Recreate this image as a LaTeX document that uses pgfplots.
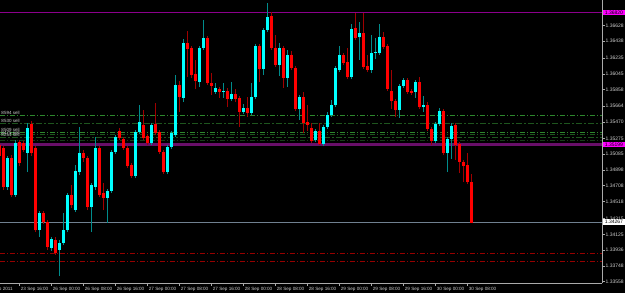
\documentclass[border=0pt]{standalone}
\usepackage{pgfplots}
\pgfplotsset{compat=1.18}
\usepackage{pgfplotstable}
\usepackage{fontspec}
\setmainfont{Liberation Sans}
\definecolor{bull}{RGB}{0,255,255}
\definecolor{bear}{RGB}{255,0,0}
\definecolor{bullwick}{RGB}{0,140,140}
\definecolor{bearwick}{RGB}{160,0,0}
\definecolor{framecol}{RGB}{170,170,170}
\definecolor{labcol}{RGB}{205,205,205}
\definecolor{lvltop}{RGB}{140,0,140}
\definecolor{lvlmid}{RGB}{105,15,105}
\definecolor{magbox}{RGB}{255,0,255}
\definecolor{bidcol}{RGB}{112,128,144}
\definecolor{gA}{RGB}{45,135,45}
\definecolor{gB}{RGB}{30,85,30}
\definecolor{gC}{RGB}{25,60,25}
\definecolor{rl}{RGB}{150,0,0}

% i open high low close  (EURUSD H1, bullish candles)
\pgfplotstableread{
i o h l c
1 1.34692 1.35064 1.34657 1.35040
3 1.34597 1.35255 1.34573 1.35219
6 1.35100 1.35459 1.34872 1.35399
9 1.34178 1.34405 1.34094 1.34381
12 1.33962 1.34094 1.33927 1.34070
14 1.33939 1.34058 1.33627 1.34022
15 1.34022 1.34381 1.33998 1.34178
16 1.34178 1.34621 1.34154 1.34597
18 1.34417 1.34956 1.34393 1.34884
19 1.34872 1.35411 1.34836 1.35100
22 1.34453 1.34740 1.34154 1.34717
23 1.34692 1.35291 1.34657 1.35159
26 1.34561 1.34669 1.34262 1.34645
27 1.34645 1.35136 1.34621 1.35112
28 1.35112 1.35315 1.35088 1.35291
33 1.34824 1.35375 1.34800 1.35351
34 1.35351 1.35674 1.35327 1.35471
37 1.35219 1.35459 1.35195 1.35435
41 1.34872 1.35195 1.34848 1.35171
42 1.35171 1.35363 1.35147 1.35339
43 1.35315 1.36033 1.35291 1.35914
45 1.35758 1.36464 1.35710 1.36416
49 1.35949 1.36380 1.35890 1.36356
50 1.36356 1.36692 1.36333 1.36476
53 1.35830 1.35937 1.35806 1.35878
55 1.35830 1.35937 1.35758 1.35842
57 1.35746 1.35949 1.35722 1.35806
60 1.35590 1.35686 1.35566 1.35638
62 1.35578 1.35937 1.35554 1.35770
63 1.35770 1.36404 1.35746 1.36380
65 1.36105 1.36596 1.36033 1.36572
66 1.36572 1.36895 1.36548 1.36728
69 1.36153 1.36416 1.36021 1.36356
71 1.35997 1.36333 1.35890 1.36273
74 1.35626 1.35794 1.35495 1.35770
78 1.35255 1.35387 1.35231 1.35363
80 1.35207 1.35435 1.35183 1.35411
81 1.35411 1.35590 1.35387 1.35554
82 1.35554 1.35734 1.35531 1.35674
83 1.35674 1.36141 1.35650 1.36117
84 1.36093 1.36380 1.36069 1.36273
87 1.36009 1.36644 1.35985 1.36584
89 1.36488 1.36668 1.36213 1.36536
92 1.36093 1.36512 1.36057 1.36297
93 1.36297 1.36476 1.36225 1.36303
94 1.36297 1.36644 1.36273 1.36488
99 1.35614 1.35926 1.35519 1.35902
100 1.35902 1.35997 1.35878 1.35973
103 1.35830 1.35973 1.35758 1.35949
105 1.35650 1.35782 1.35590 1.35674
108 1.35243 1.35471 1.35219 1.35447
109 1.35447 1.35638 1.35423 1.35602
111 1.35100 1.35291 1.34872 1.35267
112 1.35267 1.35459 1.35028 1.35423
}\upbars

% bearish candles
\pgfplotstableread{
i o h l c
-1 1.35195 1.35219 1.35040 1.35064
0 1.35159 1.35183 1.34657 1.34692
2 1.35040 1.35076 1.34573 1.34597
4 1.35231 1.35255 1.34944 1.34980
5 1.35219 1.35243 1.35112 1.35136
7 1.35447 1.35483 1.35064 1.35100
8 1.35159 1.35183 1.34154 1.34178
10 1.34381 1.34405 1.34250 1.34274
11 1.34274 1.34298 1.33939 1.33974
13 1.34058 1.34094 1.33879 1.33903
17 1.34597 1.34717 1.34441 1.34477
20 1.35100 1.35136 1.34992 1.35040
21 1.35040 1.35064 1.34417 1.34453
24 1.35159 1.35183 1.34573 1.34597
25 1.34621 1.34740 1.34417 1.34561
29 1.35363 1.35399 1.35255 1.35279
30 1.35267 1.35291 1.35136 1.35159
31 1.35159 1.35183 1.34920 1.34944
32 1.34956 1.34980 1.34800 1.34824
35 1.35435 1.35614 1.35255 1.35279
36 1.35303 1.35327 1.35195 1.35219
38 1.35447 1.35698 1.35315 1.35339
39 1.35351 1.35375 1.35088 1.35112
40 1.35112 1.35136 1.34848 1.34872
44 1.35914 1.35961 1.35590 1.35770
46 1.36416 1.36560 1.36009 1.36344
47 1.36356 1.36380 1.35997 1.36033
48 1.36045 1.36213 1.35866 1.35961
51 1.36476 1.36500 1.35914 1.35937
52 1.35937 1.36057 1.35794 1.35902
54 1.35866 1.35890 1.35758 1.35830
56 1.35842 1.35878 1.35650 1.35746
58 1.35806 1.35866 1.35710 1.35746
59 1.35758 1.35782 1.35411 1.35590
61 1.35638 1.35770 1.35531 1.35578
64 1.36380 1.36404 1.35949 1.36105
67 1.36739 1.36787 1.36333 1.36356
68 1.36356 1.36512 1.36129 1.36153
70 1.36356 1.36380 1.35878 1.35997
72 1.36273 1.36321 1.36093 1.36117
73 1.36117 1.36141 1.35602 1.35626
75 1.35770 1.35830 1.35339 1.35459
76 1.35471 1.35674 1.35363 1.35435
77 1.35399 1.35459 1.35219 1.35243
79 1.35363 1.35459 1.35195 1.35207
85 1.36273 1.36297 1.36153 1.36177
86 1.36189 1.36356 1.35985 1.36009
88 1.36596 1.36781 1.36452 1.36476
90 1.36536 1.36781 1.36105 1.36129
91 1.36141 1.36273 1.36069 1.36093
95 1.36488 1.36548 1.36344 1.36368
96 1.36380 1.36404 1.35842 1.35866
97 1.35842 1.36093 1.35626 1.35722
98 1.35722 1.35746 1.35531 1.35614
101 1.35973 1.35997 1.35806 1.35830
102 1.35842 1.35866 1.35794 1.35818
104 1.35949 1.36009 1.35626 1.35650
106 1.35674 1.35710 1.35363 1.35387
107 1.35387 1.35411 1.35195 1.35243
110 1.35602 1.35626 1.35076 1.35100
113 1.35435 1.35459 1.35016 1.35195
114 1.35207 1.35231 1.34860 1.34992
115 1.34992 1.35016 1.34752 1.34944
116 1.34956 1.35100 1.34728 1.34752
117 1.34752 1.34848 1.34262 1.34262
}\downbars

\begin{document}
\begin{tikzpicture}
\fill[black] (0,-9.7pt) rectangle (625pt,283.3pt);
\begin{axis}[
  at={(0,0)}, anchor=south west,
  scale only axis, width=602pt, height=283.3pt,
  xmin=-0.925, xmax=149.575, ymin=1.33540, ymax=1.36931,
  clip=false,
  axis x line*=bottom, axis y line*=right,
  axis line style={draw=framecol, line width=0.8pt},
  xtick={4,12,...,116},
  xticklabels={23 Sep 16:00,26 Sep 00:00,26 Sep 08:00,26 Sep 16:00,27 Sep 00:00,27 Sep 08:00,27 Sep 16:00,28 Sep 00:00,28 Sep 08:00,28 Sep 16:00,29 Sep 00:00,29 Sep 08:00,29 Sep 16:00,30 Sep 00:00,30 Sep 08:00},
  ytick={1.36628,1.36438,1.36235,1.36045,1.35858,1.35664,1.35470,1.35275,1.35085,1.34898,1.34708,1.34518,1.34315,1.34125,1.33936,1.33748,1.33558},
  yticklabels={1.36628,1.36438,1.36235,1.36045,1.35858,1.35664,1.35470,1.35275,1.35085,1.34898,1.34708,1.34518,1.34315,1.34125,1.33936,1.33748,1.33558},
  tick align=outside, major tick length=2.5pt,
  tick style={draw=framecol, line width=0.6pt},
  xticklabel style={font=\fontsize{4.6}{5}\selectfont, text=labcol, anchor=north west, inner sep=0pt, xshift=1pt, yshift=-1pt},
  yticklabel style={font=\fontsize{5}{6}\selectfont, text=labcol, anchor=west, inner sep=0pt, xshift=1pt},
]
% level lines
\addplot[forget plot, lvlmid, line width=2.4pt] coordinates {(-0.925,1.35201) (149.575,1.35201)};
\addplot[forget plot, lvltop, line width=1pt] coordinates {(-0.925,1.36784) (149.575,1.36784)};
\addplot[forget plot, gA, line width=0.9pt, dash pattern=on 5pt off 2pt on 1pt off 2pt] coordinates {(-0.925,1.35554) (149.575,1.35554)};
\addplot[forget plot, gB, line width=0.9pt, dash pattern=on 6pt off 2pt on 2pt off 2pt] coordinates {(-0.925,1.35455) (149.575,1.35455)};
\addplot[forget plot, gA, line width=0.9pt, dash pattern=on 5pt off 2pt on 1pt off 2pt] coordinates {(-0.925,1.35347) (149.575,1.35347)};
\addplot[forget plot, gB, line width=0.9pt, dash pattern=on 5pt off 2pt on 1pt off 2pt] coordinates {(-0.925,1.35318) (149.575,1.35318)};
\addplot[forget plot, gB, line width=0.9pt, dash pattern=on 6pt off 2pt on 2pt off 2pt] coordinates {(-0.925,1.35288) (149.575,1.35288)};
\addplot[forget plot, gC, line width=0.9pt, dash pattern=on 5pt off 2pt on 1pt off 2pt] coordinates {(-0.925,1.35255) (149.575,1.35255)};
\addplot[forget plot, rl, line width=0.9pt, dash pattern=on 5pt off 2pt on 1pt off 2pt] coordinates {(-0.925,1.33899) (149.575,1.33899)};
\addplot[forget plot, rl, line width=0.9pt, dash pattern=on 5pt off 2pt on 1pt off 2pt] coordinates {(-0.925,1.33803) (149.575,1.33803)};
\addplot[forget plot, bidcol, line width=0.9pt] coordinates {(-0.925,1.34274) (149.575,1.34274)};
% wicks
\addplot[forget plot, mark=none, draw=none, error bars/.cd, y dir=plus, y explicit, error mark=none,
  error bar style={draw=bullwick, line width=1pt}]
  table[x=i, y=l, y error plus expr={\thisrow{h}-\thisrow{l}}] {\upbars};
\addplot[forget plot, mark=none, draw=none, error bars/.cd, y dir=plus, y explicit, error mark=none,
  error bar style={draw=bearwick, line width=1pt}]
  table[x=i, y=l, y error plus expr={\thisrow{h}-\thisrow{l}}] {\downbars};
% bodies
\addplot[forget plot, mark=none, draw=none, error bars/.cd, y dir=plus, y explicit, error mark=none,
  error bar style={draw=bull, line width=3pt}]
  table[x=i, y=o, y error plus expr={max(\thisrow{c}-\thisrow{o},0.00012)}] {\upbars};
\addplot[forget plot, mark=none, draw=none, error bars/.cd, y dir=plus, y explicit, error mark=none,
  error bar style={draw=bear, line width=3pt}]
  table[x=i, y=c, y error plus expr={max(\thisrow{o}-\thisrow{c},0.00012)}] {\downbars};
% line descriptions
\node[anchor=south west, inner sep=0.3pt, font=\fontsize{4.5}{5}\selectfont, text=labcol] at (axis cs:-0.675,1.35554) {8594 sell};
\node[anchor=south west, inner sep=0.3pt, font=\fontsize{4.5}{5}\selectfont, text=labcol] at (axis cs:-0.675,1.35455) {8530 sell};
\node[anchor=south west, inner sep=0.3pt, font=\fontsize{4.5}{5}\selectfont, text=labcol] at (axis cs:-0.675,1.35347) {8509 sell};
\node[anchor=south west, inner sep=0.3pt, font=\fontsize{4.5}{5}\selectfont, text=labcol] at (axis cs:-0.675,1.35318) {8475 sell};
\node[anchor=south west, inner sep=0.3pt, font=\fontsize{4.5}{5}\selectfont, text=labcol] at (axis cs:-0.675,1.35288) {8254 sell};
\node[anchor=north east, inner sep=0pt, font=\fontsize{4.6}{5}\selectfont, text=labcol] at ([yshift=-3.5pt]axis cs:2.3,1.33540) {23 Sep 2011};
\coordinate (Ltop) at (axis cs:149.575,1.36784);
\coordinate (Lmid) at (axis cs:149.575,1.35201);
\coordinate (Lbid) at (axis cs:149.575,1.34274);
\end{axis}
\node[anchor=west, fill=magbox, text=black, inner sep=0pt, minimum width=22.5pt, minimum height=5.5pt, font=\fontsize{5}{6}\selectfont] at ([xshift=0.5pt]Ltop) {1.36820};
\node[anchor=west, fill=magbox, text=black, inner sep=0pt, minimum width=22.5pt, minimum height=5.5pt, font=\fontsize{5}{6}\selectfont] at ([xshift=0.5pt]Lmid) {1.35199};
\node[anchor=west, fill=white, text=black, inner sep=0pt, minimum width=22.5pt, minimum height=5.5pt, font=\fontsize{5}{6}\selectfont] at ([xshift=0.5pt]Lbid) {1.34267};
\pgfresetboundingbox
\useasboundingbox (0,-9.7pt) rectangle (625pt,283.3pt);
\end{tikzpicture}
\end{document}
